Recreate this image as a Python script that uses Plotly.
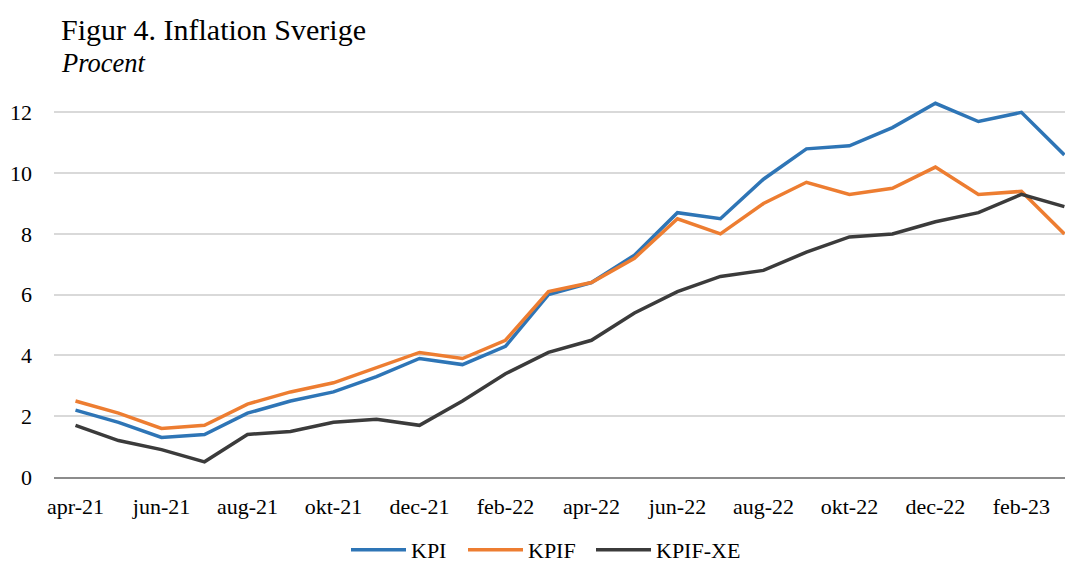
import plotly.graph_objects as go

months = ["apr-21", "maj-21", "jun-21", "jul-21", "aug-21", "sep-21", "okt-21", "nov-21",
          "dec-21", "jan-22", "feb-22", "mar-22", "apr-22", "maj-22", "jun-22", "jul-22",
          "aug-22", "sep-22", "okt-22", "nov-22", "dec-22", "jan-23", "feb-23", "mar-23"]

kpi = [2.2, 1.8, 1.3, 1.4, 2.1, 2.5, 2.8, 3.3, 3.9, 3.7, 4.3, 6.0,
       6.4, 7.3, 8.7, 8.5, 9.8, 10.8, 10.9, 11.5, 12.3, 11.7, 12.0, 10.6]
kpif = [2.5, 2.1, 1.6, 1.7, 2.4, 2.8, 3.1, 3.6, 4.1, 3.9, 4.5, 6.1,
        6.4, 7.2, 8.5, 8.0, 9.0, 9.7, 9.3, 9.5, 10.2, 9.3, 9.4, 8.0]
kpif_xe = [1.7, 1.2, 0.9, 0.5, 1.4, 1.5, 1.8, 1.9, 1.7, 2.5, 3.4, 4.1,
           4.5, 5.4, 6.1, 6.6, 6.8, 7.4, 7.9, 8.0, 8.4, 8.7, 9.3, 8.9]

tick_labels = months[::2]
y_ticks = [0, 2, 4, 6, 8, 10, 12]

FONT = "Liberation Serif, Times New Roman, serif"

# page body adds an 8px offset; layout values below are in figure coords
W, H = 1073, 575
ml, mr, mt, mb = 46, 8, 73.6, 106
ph = H - mt - mb
pw = W - ml - mr

def px_x(px):
    return (px - ml) / pw

def px_y(py):
    return (H - mb - py) / ph

series = [("KPI", kpi, "#2E75B6", "legend", 338),
          ("KPIF", kpif, "#ED7D31", "legend2", 455),
          ("KPIF-XE", kpif_xe, "#3B3B3B", "legend3", 583)]

fig = go.Figure()
legends = {}
for name, vals, col, lg, lx in series:
    fig.add_trace(go.Scatter(x=months, y=vals, name=name, mode="lines",
                             line=dict(color=col, width=3.5), legend=lg))
    legends[lg] = dict(orientation="h", x=px_x(lx), xanchor="left",
                       y=px_y(542), yanchor="middle",
                       font=dict(family=FONT, size=22), itemwidth=55,
                       bgcolor="rgba(0,0,0,0)")

fig.update_layout(
    width=W, height=H,
    margin=dict(l=ml, r=mr, t=mt, b=mb, pad=0),
    paper_bgcolor="white", plot_bgcolor="white",
    font=dict(family=FONT, size=22, color="#000000"),
    showlegend=True,
    **legends,
    xaxis=dict(type="category", range=[-0.5, 23.2], automargin=False,
               tickmode="array", tickvals=tick_labels, ticktext=tick_labels,
               showgrid=False, showline=True, linecolor="#8C8C8C", linewidth=1.5,
               ticks="", tickfont=dict(family=FONT, size=22), zeroline=False,
               ticklabelstandoff=9),
    yaxis=dict(range=[0, 13], tickmode="array", tickvals=y_ticks, automargin=False,
               showgrid=True, gridcolor="#D9D9D9", gridwidth=1.5,
               showline=False, zeroline=False, ticks="",
               tickfont=dict(family=FONT, size=22), ticklabelstandoff=21),
    annotations=[
        dict(text="Figur 4. Inflation Sverige", xref="paper", yref="paper",
             x=px_x(51), y=px_y(21), xanchor="left", yanchor="middle",
             showarrow=False, font=dict(family=FONT, size=30, color="#000000")),
        dict(text="<i>Procent</i>", xref="paper", yref="paper",
             x=px_x(51), y=px_y(54.5), xanchor="left", yanchor="middle",
             showarrow=False, font=dict(family=FONT, size=26.5, color="#000000")),
    ],
)

fig.write_html("out.html")
